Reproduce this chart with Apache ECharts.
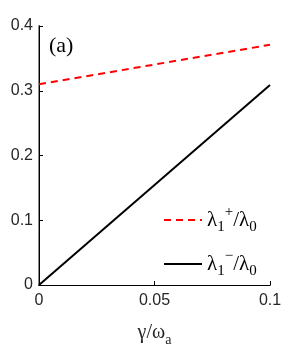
<!DOCTYPE html>
<html><head><meta charset="utf-8">
<script src="https://cdn.jsdelivr.net/npm/echarts@6/dist/echarts.min.js"></script>
<style>html,body{margin:0;padding:0;background:#fff}#c{width:299px;height:352px}</style>
</head><body><div id="c"></div>
<script>
var xValues = [0, 0.1];
var upperValues = [0.31, 0.371];
var lowerValues = [0, 0.309];
var xTicks = [0, 0.05, 0.1];
var yTicks = [0, 0.1, 0.2, 0.3, 0.4];
var seriesNames = ['upper', 'lower'];

var chart = echarts.init(document.getElementById('c'));
var tickFont = {fontFamily: 'Liberation Sans, Arial, sans-serif', fontSize: 16, color: '#262626'};
var serif = 'Liberation Serif, Times New Roman, serif';
var richLegend = {
  l: {fontFamily: serif, fontSize: 21, color: '#000', lineHeight: 30},
  sb: {fontFamily: serif, fontSize: 15, color: '#000', verticalAlign: 'bottom', lineHeight: 30},
  sp: {fontFamily: serif, fontSize: 15, color: '#000', verticalAlign: 'top', lineHeight: 30}
};
function pairs(ys){ return xValues.map(function(x,i){return [x, ys[i]];}); }
chart.setOption({
  animation: false,
  grid: {left: 39, right: 29, top: 26, bottom: 62, containLabel: false},
  legend: {
    show: true, orient: 'vertical', left: 158, top: 200, itemWidth: 38, itemHeight: 12, itemGap: 14,
    data: seriesNames, selectedMode: false,
    itemStyle: {opacity: 0},
    formatter: function(n){ return n === 'upper' ? '{l|λ}{sb|1}{sp|+}{l|/λ}{sb|0}' : '{l|λ}{sb|1}{sp|−}{l|/λ}{sb|0}'; },
    textStyle: {rich: richLegend}
  },
  xAxis: [{
    type: 'value', min: 0, max: 0.1, interval: 0.05, position: 'bottom',
    axisLine: {show: true, lineStyle: {color: '#000', width: 1}},
    axisTick: {show: true, inside: true, length: 4, lineStyle: {color: '#000'}},
    axisLabel: Object.assign({margin: 8, formatter: function(v){ return String(+v.toFixed(2)); }}, tickFont),
    splitLine: {show: false},
    name: '{g|γ/ω}{s|a}', nameLocation: 'middle', nameGap: 34,
    nameTextStyle: {rich: {g: {fontFamily: serif, fontSize: 20, color: '#262626', lineHeight: 28}, s: {fontFamily: serif, fontSize: 14, color: '#262626', verticalAlign: 'bottom', lineHeight: 28}}}
  }, {
    type: 'value', min: 0, max: 0.1, position: 'top',
    axisLine: {show: true, lineStyle: {color: '#000', width: 1}},
    axisTick: {show: false}, axisLabel: {show: false}, splitLine: {show: false}
  }],
  yAxis: [{
    type: 'value', min: 0, max: 0.4, interval: 0.1, position: 'left',
    axisLine: {show: true, lineStyle: {color: '#8c8c8c', width: 2}},
    axisTick: {show: true, inside: true, length: 4, lineStyle: {color: '#000'}},
    axisLabel: Object.assign({margin: 6, formatter: function(v){ return String(+v.toFixed(1)); }}, tickFont),
    splitLine: {show: false}
  }, {
    type: 'value', min: 0, max: 0.4, position: 'right',
    axisLine: {show: true, lineStyle: {color: '#000', width: 1}},
    axisTick: {show: false}, axisLabel: {show: false}, splitLine: {show: false}
  }],
  graphic: [{
    type: 'text', left: 49, top: 35,
    style: {text: '(a)', font: '22px "Liberation Serif", "Times New Roman", serif', fill: '#000'}
  }],
  series: [{
    name: 'upper', type: 'line', data: pairs(upperValues), symbol: 'none',
    lineStyle: {color: '#ff0000', width: 2, type: [7, 5]}, itemStyle: {color: '#ff0000'}
  }, {
    name: 'lower', type: 'line', data: pairs(lowerValues), symbol: 'none',
    lineStyle: {color: '#000', width: 2}, itemStyle: {color: '#000'}
  }]
});
</script></body></html>
